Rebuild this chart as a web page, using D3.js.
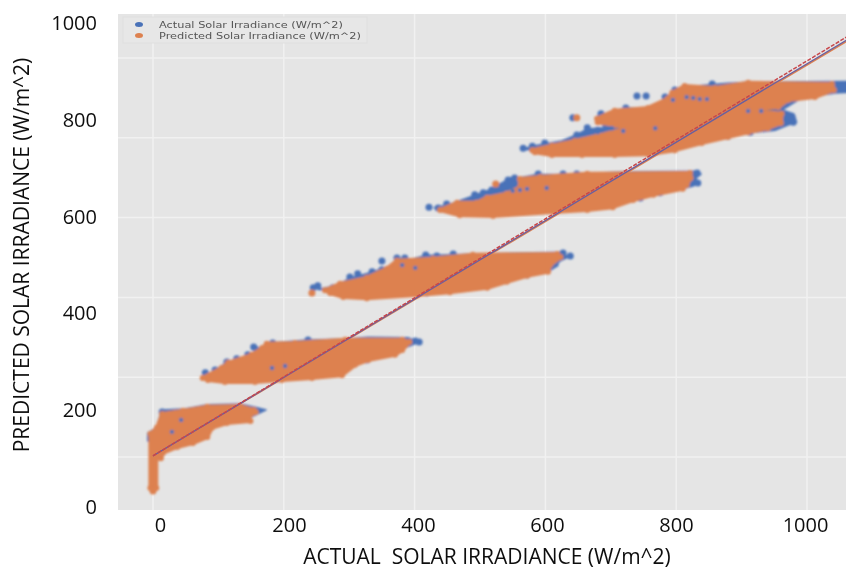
<!DOCTYPE html>
<html>
<head>
<meta charset="utf-8">
<style>
    body { margin: 0; background: #fff; }
    .tick text { font-family: "Open Sans", sans-serif; font-size: 20px; fill: #111; }
    .axis-title { font-family: "Open Sans", sans-serif; font-size: 21px; fill: #111; }
    .legend-text { font-family: "DejaVu Sans", sans-serif; font-size: 8px; fill: #555; }
</style>
<script src="https://cdn.jsdelivr.net/npm/d3@7"></script>
</head>
<body>
<div id="chart-container"></div>
<script>
// tick labels printed on the axes
var xTickLabels = [0, 200, 400, 600, 800, 1000];
var yTickLabels = [0, 200, 400, 600, 800, 1000];
var gridValues = [0, 200, 400, 600, 800, 1000];

var actualClouds = [
    [[-8,60],[6,75],[12,112],[16,118],[46,120],[83,131],[133,133],[156,125],[173,118],[165,112],[150,100],[100,85],[40,60],[5,40],[-8,40]],
    [[85,205],[110,235],[145,252],[160,270],[179,286],[237,293],[294,296],[329,300],[390,299],[405,288],[395,280],[375,268],[329,243],[225,218],[87,205]],
    [[252,420],[281,430],[301,448],[332,462],[362,478],[373,497],[398,497],[417,505],[459,507],[489,509],[622,513],[635,501],[622,491],[615,476],[604,464],[572,456],[541,446],[454,420],[286,418]],
    [[430,625],[451,632],[485,652],[512,668],[535,688],[546,700],[561,700],[587,708],[627,708],[725,715],[832,716],[838,709],[830,699],[833,687],[826,679],[810,672],[778,662],[745,647],[650,630],[451,625]],
    [[566,772],[584,780],[604,786],[625,792],[648,808],[664,822],[690,825],[680,855],[706,868],[725,875],[748,874],[778,880],[792,900],[797,918],[829,930],[879,937],[920,940],[1075,941],[1075,915],[1043,912],[992,900],[962,870],[980,860],[984,839],[971,832],[951,819],[910,812],[879,802],[809,789],[706,789],[584,768]]
];
var predictedClouds = [
    [[-4,58],[6,73],[14,108],[46,116],[83,126],[133,128],[154,118],[157,113],[146,100],[149,90],[113,85],[90,73],[83,50],[61,35],[37,25],[15,10],[12,-3],[5,-3],[5,-78],[0,-82],[-4,-78]],
    [[76,198],[105,223],[115,236],[151,256],[167,273],[174,284],[217,286],[294,294],[381,294],[392,288],[381,268],[370,256],[329,243],[309,231],[289,205],[243,198],[197,193],[156,188],[110,188],[84,193]],
    [[263,418],[286,434],[327,449],[358,472],[373,492],[428,497],[489,507],[618,509],[623,501],[607,481],[604,464],[572,454],[541,439],[511,424],[454,413],[404,406],[327,398],[291,401],[271,411]],
    [[465,637],[495,637],[511,650],[541,660],[561,675],[561,697],[592,702],[664,710],[821,712],[822,699],[816,682],[810,672],[765,657],[734,644],[703,626],[664,619],[612,614],[520,604],[469,606],[439,619]],
    [[580,769],[610,780],[645,792],[680,805],[726,824],[706,832],[680,839],[679,848],[706,868],[757,875],[787,898],[794,913],[813,930],[859,925],[910,938],[1038,935],[1041,920],[1012,902],[971,895],[956,877],[910,870],[961,860],[960,837],[940,824],[910,814],[879,802],[839,787],[798,769],[757,759],[706,757],[656,757],[610,757],[584,764]]
];

// stray points on the rim of the clouds
var actualPoints = [[14,113],
    [80,211],[95,218],[113,238],[128,246],[145,256],[154,276],[159,268],[183,286],[183,273],[237,293],[401,291],[407,288],[373,273],[327,243],[309,238],
    [252,429],[245,424],[275,424],[301,451],[313,459],[335,464],[350,469],[373,499],[385,499],[417,506],[434,504],[459,509],[627,511],[638,504],[615,484],[604,481],[572,456],[543,449],[419,411],[350,491],
    [422,626],[436,624],[449,634],[459,624],[492,657],[505,662],[518,669],[527,662],[543,694],[553,699],[557,687],[589,709],[627,709],[648,709],[832,712],[833,687],[775,662],[745,649],
    [566,774],[580,779],[599,787],[648,807],[664,825],[680,819],[685,860],[723,875],[783,902],[798,920],[794,890],[855,935],[1055,927],[977,852],[979,839],[879,804],[913,814],[740,905],[754,905],[642,850]];
var predictedPoints = [[243,411],[524,684],[648,850],[0,-85]];

// blue showing through the orange cloud
var actualGaps = [[43,93],[29,63],[202,228],[182,223],[401,474],[381,481],[550,667],[561,669],[572,672],[602,674],
    [816,902],[826,900],[836,897],[847,897],[795,895],[680,814],[688,819],[702,824],[719,817],[910,867],[930,867],[768,824]];

// fitted lines, start and end
var actualFit = [[0,3],[1075,1059]];
var predictedFit = [[0,3],[1075,1056]];
var dashedFit = [[0,3],[1075,1067]];

var seriesNames = ["Actual Solar Irradiance (W/m^2)", "Predicted Solar Irradiance (W/m^2)"];

var settings = {
    w: 846,
    h: 569,
    left: 118,
    right: 846,
    top: 14,
    bottom: 510,
    blue: "#4a72b8",
    orange: "#dd8150"
};

var xScale = d3.scaleLinear().domain([0, 1000]).range([153, 807]);
var yScale = d3.scaleLinear().domain([0, 1000]).range([457, 58]);
// the printed tick labels do not sit on the gridlines in the picture
var xTickScale = d3.scaleLinear().domain([0, 1000]).range([160, 805]);
var yTickScale = d3.scaleLinear().domain([0, 1000]).range([507, 23]);

var svg = d3.select("#chart-container").append("svg")
    .attr("width", settings.w)
    .attr("height", settings.h)
    .style("display", "block");

var defs = svg.append("defs");
defs.append("filter").attr("id", "soft").append("feGaussianBlur").attr("stdDeviation", 0.8);
defs.append("filter").attr("id", "softText").append("feGaussianBlur").attr("stdDeviation", 0.35);
defs.append("clipPath").attr("id", "plot-clip").append("rect")
    .attr("x", settings.left).attr("y", settings.top)
    .attr("width", settings.right - settings.left)
    .attr("height", settings.bottom - settings.top);

svg.append("rect")
    .attr("x", settings.left).attr("y", settings.top)
    .attr("width", settings.right - settings.left)
    .attr("height", settings.bottom - settings.top)
    .attr("fill", "#e5e5e5");

var plot = svg.append("g").attr("clip-path", "url(#plot-clip)");

// gridlines
plot.selectAll(".grid-x").data(gridValues).enter().append("line")
    .attr("x1", function(d) { return xScale(d); })
    .attr("x2", function(d) { return xScale(d); })
    .attr("y1", settings.top).attr("y2", settings.bottom)
    .attr("stroke", "#f1f1f1").attr("stroke-width", 1.5);
plot.selectAll(".grid-y").data(gridValues).enter().append("line")
    .attr("y1", function(d) { return yScale(d); })
    .attr("y2", function(d) { return yScale(d); })
    .attr("x1", settings.left).attr("x2", settings.right)
    .attr("stroke", "#f1f1f1").attr("stroke-width", 1.5);

var marks = plot.append("g").attr("filter", "url(#soft)");
var fits = plot.append("g").attr("filter", "url(#softText)");

var cloudPath = d3.line()
    .x(function(d) { return xScale(d[0]); })
    .y(function(d) { return yScale(d[1]); })
    .curve(d3.curveLinearClosed);

function drawClouds(clouds, color, rim) {
    marks.append("g").selectAll("path").data(clouds).enter().append("path")
        .attr("d", cloudPath)
        .attr("fill", color)
        .attr("stroke", color)
        .attr("stroke-width", rim)
        .attr("stroke-linejoin", "round");
}

function drawPoints(points, color, r) {
    marks.append("g").selectAll("circle").data(points).enter().append("circle")
        .attr("cx", function(d) { return xScale(d[0]); })
        .attr("cy", function(d) { return yScale(d[1]); })
        .attr("r", r)
        .attr("fill", color);
}

function drawFit(fit, color, width, dash) {
    fits.append("line")
        .attr("x1", xScale(fit[0][0])).attr("y1", yScale(fit[0][1]))
        .attr("x2", xScale(fit[1][0])).attr("y2", yScale(fit[1][1]))
        .attr("stroke", color)
        .attr("stroke-width", width)
        .attr("stroke-dasharray", dash);
}

drawClouds(actualClouds, settings.blue, 1.5);
drawPoints(actualPoints, settings.blue, 3.5);
drawClouds(predictedClouds, settings.orange, 4);
// each envelope vertex is a marker too, which gives the cloud its lumpy rim
predictedClouds.forEach(function(cloud) {
    drawPoints(cloud, settings.orange, 3);
});
drawPoints(predictedPoints, settings.orange, 3.5);
drawPoints(actualGaps, settings.blue, 2.2);

drawFit(predictedFit, settings.orange, 1.8, null);
drawFit(actualFit, "#6a5f9f", 1.4, null);
drawFit(dashedFit, "#c8474b", 1.5, "4,1.5");

// axes
var xAxis = d3.axisBottom(xTickScale).tickValues(xTickLabels).tickSize(0).tickFormat(d3.format("d"));
var yAxis = d3.axisLeft(yTickScale).tickValues(yTickLabels).tickSize(0).tickFormat(d3.format("d"));

var xAxisDom = svg.append("g")
    .attr("transform", "translate(0,515)")
    .attr("filter", "url(#softText)")
    .call(xAxis);
xAxisDom.select(".domain").remove();

var yAxisDom = svg.append("g")
    .attr("transform", "translate(100,0)")
    .attr("filter", "url(#softText)")
    .call(yAxis);
yAxisDom.select(".domain").remove();

svg.append("text")
    .attr("class", "axis-title")
    .attr("x", 487).attr("y", 564)
    .attr("text-anchor", "middle")
    .attr("filter", "url(#softText)")
    .style("white-space", "pre")
    .text("ACTUAL  SOLAR IRRADIANCE (W/m^2)");

svg.append("text")
    .attr("class", "axis-title")
    .attr("transform", "translate(29,255) rotate(-90)")
    .attr("text-anchor", "middle")
    .attr("filter", "url(#softText)")
    .text("PREDICTED SOLAR IRRADIANCE (W/m^2)");

// legend
var legend = svg.append("g").attr("filter", "url(#softText)");
legend.append("rect")
    .attr("x", 123).attr("y", 17)
    .attr("width", 244).attr("height", 26)
    .attr("fill", "#e7e7e7")
    .attr("stroke", "#dfdfdf");

var legendColors = [settings.blue, settings.orange];
var legendY = [28, 39];
var legendWidths = [184, 202];

seriesNames.forEach(function(name, i) {
    legend.append("ellipse")
        .attr("cx", 139).attr("cy", legendY[i] - 3.5)
        .attr("rx", 4).attr("ry", 2.5)
        .attr("fill", legendColors[i]);
    legend.append("text")
        .attr("class", "legend-text")
        .attr("x", 159).attr("y", legendY[i])
        .attr("textLength", legendWidths[i])
        .attr("lengthAdjust", "spacingAndGlyphs")
        .text(name);
});
</script>
</body>
</html>
